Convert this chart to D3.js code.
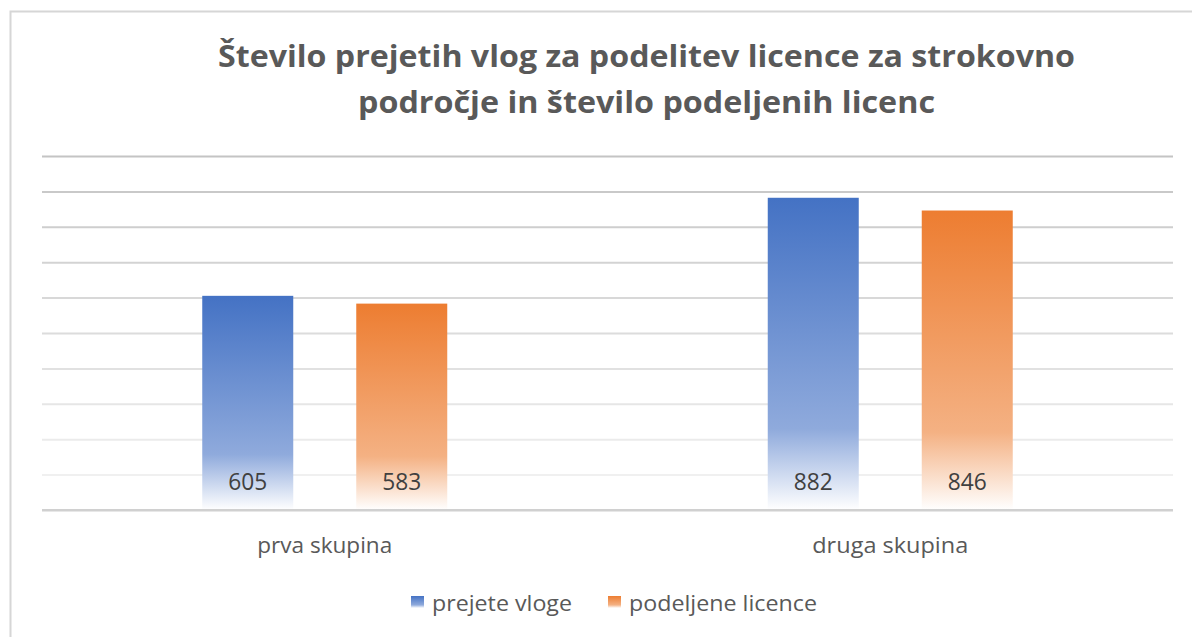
<!DOCTYPE html>
<html>
<head>
<meta charset="utf-8">
<script src="https://cdn.jsdelivr.net/npm/d3@7"></script>
<style>
  html, body { margin: 0; padding: 0; background: #ffffff; }
  svg { display: block; }
  text { font-family: "Open Sans", "DejaVu Sans", sans-serif; }
</style>
</head>
<body>
<svg id="chart" width="1192" height="637"></svg>
<script>
// ---- data ----
const titleLines = ["Število prejetih vlog za podelitev licence za strokovno", "področje in število podeljenih licenc"];
const categories = ["prva skupina", "druga skupina"];
const seriesNames = ["prejete vloge", "podeljene licence"];
const prejeteVloge = [605, 882];
const podeljeneLicence = [583, 846];
const yTicks = [0, 100, 200, 300, 400, 500, 600, 700, 800, 900, 1000];

// ---- layout ----
const W = 1192, H = 637;
const plot = { left: 42, right: 1173, top: 156, bottom: 510 };
const colors = ["#4472C4", "#ED7D31"];
const lightColors = ["#8FAADC", "#F4B183"];

const svg = d3.select("#chart");

// chart border (frame extends past the picture at right/bottom)
svg.append("rect")
  .attr("x", 10.5).attr("y", 11.5)
  .attr("width", W + 20).attr("height", H + 20)
  .attr("fill", "#ffffff").attr("stroke", "#d6d6d6").attr("stroke-width", 2);

// gradients
const defs = svg.append("defs");
seriesNames.forEach((s, i) => {
  const g = defs.append("linearGradient")
    .attr("id", "grad" + i).attr("x1", 0).attr("y1", 0).attr("x2", 0).attr("y2", 1);
  g.append("stop").attr("offset", "0%").attr("stop-color", colors[i]);
  g.append("stop").attr("offset", "74%").attr("stop-color", lightColors[i]);
  g.append("stop").attr("offset", "100%").attr("stop-color", "#ffffff");
});

// scales
const x0 = d3.scaleBand().domain(categories).range([plot.left, plot.right]).paddingInner(0).paddingOuter(0);
const y = d3.scaleLinear().domain([0, 1000]).range([plot.bottom, plot.top]);
const barW = 91, barGap = 63;
const x1 = d3.scaleOrdinal().domain([0, 1]).range([-(barGap / 2 + barW), barGap / 2]);

// gridlines via axis
const gridColor = d3.interpolateRgb("#c4c4c4", "#f0f0f0");
const grid = svg.append("g")
  .attr("transform", `translate(${plot.left},0)`)
  .call(d3.axisLeft(y).tickValues(yTicks).tickSize(-(plot.right - plot.left)).tickFormat(""));
grid.select(".domain").remove();
grid.selectAll(".tick line")
  .attr("stroke", d => d === 0 ? "#d0d0d0" : gridColor((1000 - d) / 900))
  .attr("stroke-width", 2);

// title
svg.append("g").selectAll("text").data(titleLines).join("text")
  .attr("x", 646.5)
  .attr("y", (d, i) => 67 + i * 46)
  .attr("text-anchor", "middle")
  .attr("font-size", 31)
  .attr("font-weight", 700)
  .attr("fill", "#595959")
  .attr("textLength", (d, i) => i === 0 ? 857 : 577)
  .attr("lengthAdjust", "spacingAndGlyphs")
  .text(d => d);

// bars
const series = [prejeteVloge, podeljeneLicence];
const barData = [];
categories.forEach((c, ci) => {
  series.forEach((vals, si) => barData.push({ cat: c, s: si, v: vals[ci] }));
});

const bars = svg.append("g");
bars.selectAll("rect").data(barData).join("rect")
  .attr("x", d => x0(d.cat) + x0.bandwidth() / 2 + x1(d.s))
  .attr("y", d => y(d.v))
  .attr("width", barW)
  .attr("height", d => y(0) - y(d.v))
  .attr("fill", d => `url(#grad${d.s})`);

// re-draw baseline on top
svg.append("line")
  .attr("x1", plot.left).attr("x2", plot.right)
  .attr("y1", y(0)).attr("y2", y(0))
  .attr("stroke", "#d0d0d0").attr("stroke-width", 2);

// data labels
svg.append("g").selectAll("text").data(barData).join("text")
  .attr("x", d => x0(d.cat) + x0.bandwidth() / 2 + x1(d.s) + barW / 2)
  .attr("y", 490)
  .attr("text-anchor", "middle")
  .attr("font-size", 23)
  .attr("fill", "#404040")
  .attr("textLength", 39)
  .attr("lengthAdjust", "spacingAndGlyphs")
  .text(d => d.v);

// category labels
svg.append("g").selectAll("text").data(categories).join("text")
  .attr("x", d => x0(d) + x0.bandwidth() / 2)
  .attr("y", 553)
  .attr("text-anchor", "middle")
  .attr("font-size", 22)
  .attr("fill", "#595959")
  .attr("textLength", (d, i) => i === 0 ? 135 : 156)
  .attr("lengthAdjust", "spacingAndGlyphs")
  .text(d => d);

// legend
const legendX = [411, 608];
const legendW = [140, 188];
const leg = svg.append("g").selectAll("g").data(seriesNames).join("g")
  .attr("transform", (d, i) => `translate(${legendX[i]},596)`);
leg.append("rect").attr("width", 13).attr("height", 12)
  .attr("fill", (d, i) => `url(#grad${i})`);
leg.append("text")
  .attr("x", 21).attr("y", 15)
  .attr("font-size", 22)
  .attr("fill", "#595959")
  .attr("textLength", (d, i) => legendW[i])
  .attr("lengthAdjust", "spacingAndGlyphs")
  .text(d => d);
</script>
</body>
</html>
